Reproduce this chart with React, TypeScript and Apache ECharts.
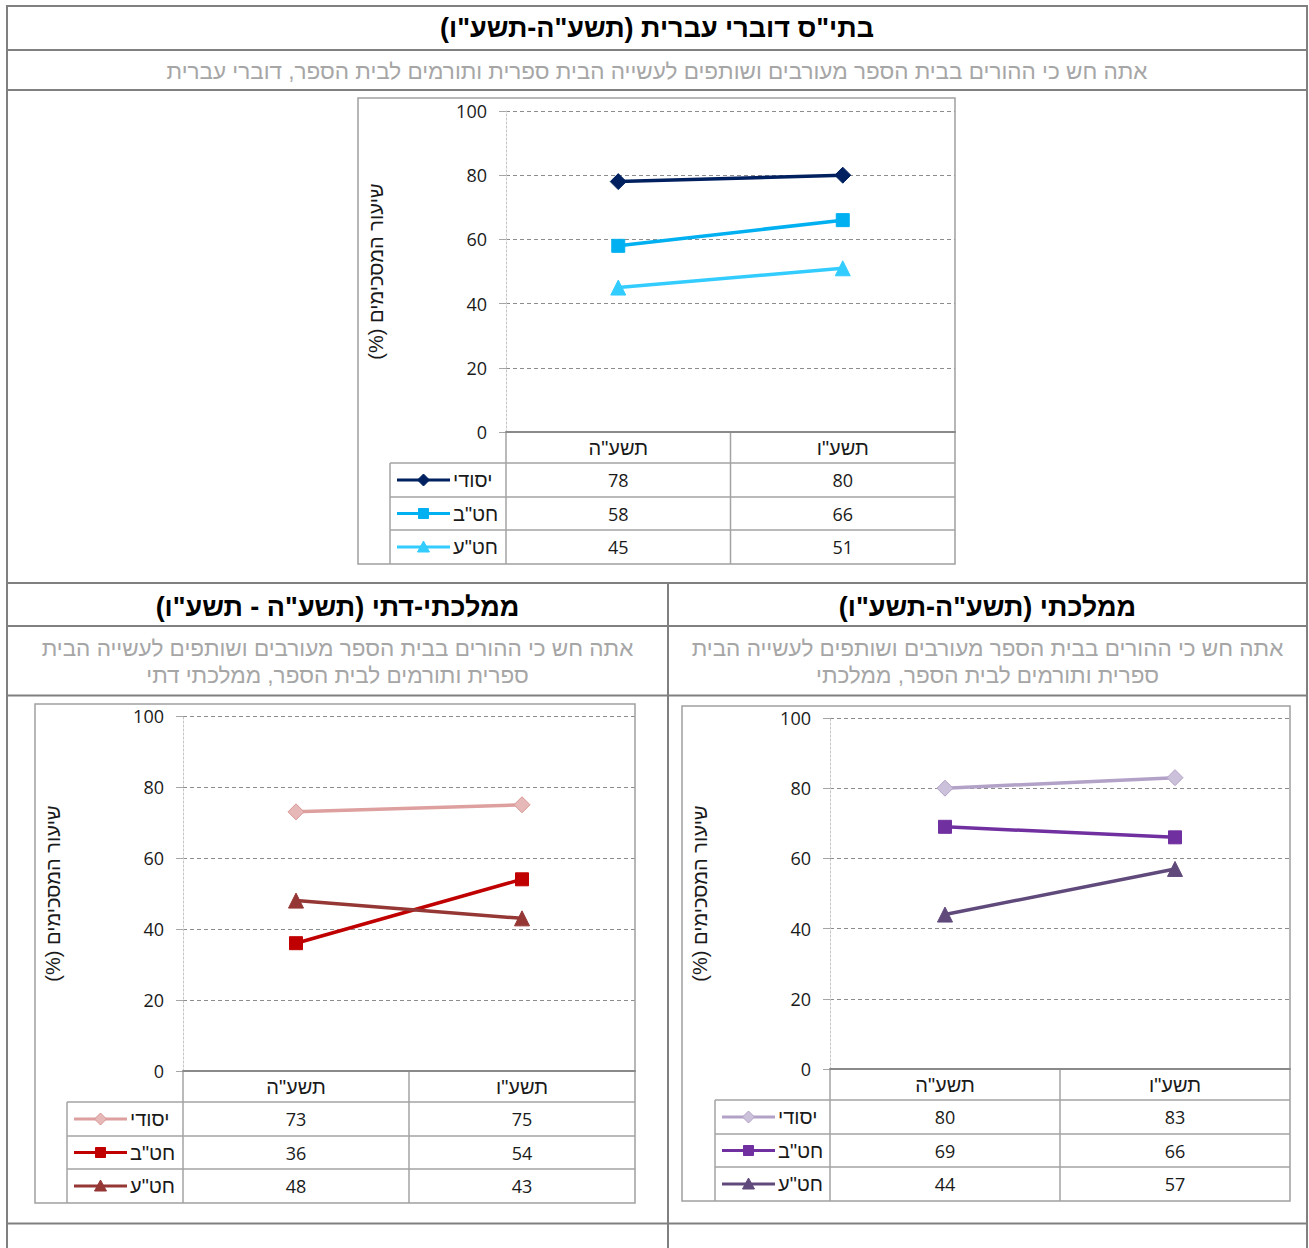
import { useEffect, useRef } from 'react';
import * as echarts from 'echarts';

// ---------- data ----------
const categories = ['תשע"ה', 'תשע"ו'];
const seriesNames = ['יסודי', 'חט"ב', 'חט"ע'];

const hebrewYesodi = [78, 80];
const hebrewHatab = [58, 66];
const hebrewHata = [45, 51];

const datiYesodi = [73, 75];
const datiHatab = [36, 54];
const datiHata = [48, 43];

const mamlachtiYesodi = [80, 83];
const mamlachtiHatab = [69, 66];
const mamlachtiHata = [44, 57];

const yMin = 0;
const yMax = 100;
const yInterval = 20;

const axisName = 'שיעור המסכימים (%)';

const topTitle = 'בתי"ס דוברי עברית (תשע"ה-תשע"ו)';
const topSubtitle = 'אתה חש כי ההורים בבית הספר מעורבים ושותפים לעשייה הבית ספרית ותורמים לבית הספר, דוברי עברית';
const datiTitle = 'ממלכתי-דתי (תשע"ה - תשע"ו)';
const datiSubtitle = ['אתה חש כי ההורים בבית הספר מעורבים ושותפים לעשייה הבית', 'ספרית ותורמים לבית הספר, ממלכתי דתי'];
const mamlachtiTitle = 'ממלכתי (תשע"ה-תשע"ו)';
const mamlachtiSubtitle = ['אתה חש כי ההורים בבית הספר מעורבים ושותפים לעשייה הבית', 'ספרית ותורמים לבית הספר, ממלכתי'];

// ---------- style / layout ----------
const RLM = '\u200F';
const FONT = "'Open Sans', 'Liberation Sans', 'DejaVu Sans', sans-serif";
const HEB = "'Liberation Sans', Arial, 'DejaVu Sans', sans-serif";
const BORDER = '#808080';
const TABLE = '#a3a3a3';
const TEXT = '#1a1a1a';

type Panel = {
  values: number[][];
  lineColors: string[];
  fills: string[];
  borders: string[];
  frame: number[]; // x0,y0,x1,y1
  plot: number[]; // left, top, right, bottom
  legendLeft: number;
  rowLines: number[];
};

const symbols = ['diamond', 'rect', 'triangle'];
const symbolSizes = [16, 13, 15];

const panels: Panel[] = [
  {
    values: [hebrewYesodi, hebrewHatab, hebrewHata],
    lineColors: ['#002060', '#00b0f0', '#33ccff'],
    fills: ['#002060', '#00b0f0', '#33ccff'],
    borders: ['#002060', '#00b0f0', '#33ccff'],
    frame: [358, 98, 955, 564],
    plot: [506, 111, 955, 432],
    legendLeft: 390,
    rowLines: [463, 497, 530, 564],
  },
  {
    values: [datiYesodi, datiHatab, datiHata],
    lineColors: ['#de9f9f', '#c00000', '#953735'],
    fills: ['#e6b9b8', '#c00000', '#953735'],
    borders: ['#d99694', '#c00000', '#953735'],
    frame: [35, 704, 635, 1203],
    plot: [183, 716, 635, 1071],
    legendLeft: 67,
    rowLines: [1102, 1136, 1169, 1203],
  },
  {
    values: [mamlachtiYesodi, mamlachtiHatab, mamlachtiHata],
    lineColors: ['#b3a2c7', '#7030a0', '#604a7b'],
    fills: ['#ccc1da', '#7030a0', '#604a7b'],
    borders: ['#b3a2c7', '#7030a0', '#604a7b'],
    frame: [682, 706, 1290, 1201],
    plot: [830, 718, 1290, 1069],
    legendLeft: 715,
    rowLines: [1100, 1134, 1167, 1201],
  },
];

function line(x1: number, y1: number, x2: number, y2: number, stroke: string, lineWidth: number, z = 1) {
  return { type: 'line', z, silent: true, shape: { x1, y1, x2, y2 }, style: { stroke, lineWidth } };
}

function text(x: number, y: number, str: string, opts: any = {}) {
  return {
    type: 'text',
    x,
    y,
    z: 5,
    silent: true,
    style: {
      text: str,
      fill: opts.fill || TEXT,
      fontSize: opts.fontSize || 18,
      fontFamily: opts.fontFamily || FONT,
      fontWeight: opts.fontWeight || 'normal',
      align: opts.align || 'center',
      verticalAlign: 'middle',
    },
  };
}

function keyMarker(kind: string, cx: number, cy: number, fill: string, stroke: string) {
  if (kind === 'diamond') {
    const r = 6;
    return { type: 'polygon', z: 6, shape: { points: [[cx, cy - r], [cx + r, cy], [cx, cy + r], [cx - r, cy]] }, style: { fill, stroke, lineWidth: 1 } };
  }
  if (kind === 'rect') {
    return { type: 'rect', z: 6, shape: { x: cx - 5, y: cy - 5, width: 10, height: 10 }, style: { fill, stroke, lineWidth: 1 } };
  }
  return { type: 'polygon', z: 6, shape: { points: [[cx, cy - 6], [cx + 6, cy + 5], [cx - 6, cy + 5]] }, style: { fill, stroke, lineWidth: 1 } };
}

function buildOption() {
  const grid: any[] = [];
  const xAxis: any[] = [];
  const yAxis: any[] = [];
  const series: any[] = [];
  const graphic: any[] = [];

  // outer table
  const L = 7, R = 1307, MID = 668;
  graphic.push(line(L, 6, R, 6, BORDER, 2));
  graphic.push(line(L, 50, R, 50, BORDER, 2));
  graphic.push(line(L, 90, R, 90, BORDER, 2));
  graphic.push(line(L, 583, R, 583, BORDER, 2));
  graphic.push(line(L, 626, R, 626, BORDER, 2));
  graphic.push(line(L, 695.5, R, 695.5, BORDER, 2));
  graphic.push(line(L, 1223.5, R, 1223.5, BORDER, 2));
  graphic.push(line(L, 5, L, 1248, BORDER, 2));
  graphic.push(line(R, 5, R, 1248, BORDER, 2));
  graphic.push(line(MID, 583, MID, 1248, BORDER, 2));

  // titles
  const titleOpts = { fontSize: 27, fontWeight: 'bold', fill: '#000', fontFamily: HEB };
  const subOpts = { fontSize: 22.5, fill: '#a6a6a6', fontFamily: HEB };
  graphic.push(text((L + R) / 2, 28, topTitle + RLM, titleOpts));
  graphic.push(text((L + R) / 2, 71, topSubtitle, subOpts));
  graphic.push(text((L + MID) / 2, 607, datiTitle + RLM, titleOpts));
  graphic.push(text((MID + R) / 2, 607, mamlachtiTitle + RLM, titleOpts));
  datiSubtitle.forEach((s, k) => graphic.push(text((L + MID) / 2, 648 + k * 27, s, subOpts)));
  mamlachtiSubtitle.forEach((s, k) => graphic.push(text((MID + R) / 2, 648 + k * 27, s, subOpts)));

  panels.forEach((p, i) => {
    const [pl, pt, pr, pb] = p.plot;
    const [fx0, fy0, fx1, fy1] = p.frame;
    grid.push({ left: pl, top: pt, width: pr - pl, height: pb - pt, containLabel: false, outerBoundsMode: 'none' });
    xAxis.push({
      type: 'category',
      gridIndex: i,
      data: categories,
      boundaryGap: true,
      axisLine: { show: true, onZero: false, lineStyle: { color: '#8a8a8a', width: 2 } },
      axisTick: { show: false },
      splitLine: { show: false },
      axisLabel: { margin: 16, verticalAlign: 'middle', fontSize: 20, color: TEXT, fontFamily: HEB, interval: 0 },
      z: 4,
    });
    yAxis.push({
      type: 'value',
      gridIndex: i,
      min: yMin,
      max: yMax,
      interval: yInterval,
      name: axisName + RLM,
      nameLocation: 'middle',
      nameGap: 120,
      nameTextStyle: { fontSize: 20, color: TEXT, fontFamily: HEB },
      axisLine: { show: true, lineStyle: { color: '#c4c4c4', type: [2, 2], width: 1 } },
      axisTick: { show: true, length: 7, lineStyle: { color: '#a6a6a6' } },
      axisLabel: { margin: 19, fontSize: 18, color: TEXT, fontFamily: FONT },
      splitLine: { show: true, lineStyle: { color: '#8c8c8c', type: [4, 3], width: 1 } },
    });
    p.values.forEach((vals, j) => {
      series.push({
        type: 'line',
        name: seriesNames[j],
        xAxisIndex: i,
        yAxisIndex: i,
        data: vals,
        symbol: symbols[j],
        symbolSize: symbolSizes[j],
        showSymbol: true,
        lineStyle: { color: p.lineColors[j], width: 3.5 },
        itemStyle: { color: p.fills[j], borderColor: p.borders[j], borderWidth: 1 },
        z: 10,
      });
    });

    // frame
    graphic.push({ type: 'rect', z: 1, silent: true, shape: { x: fx0, y: fy0, width: fx1 - fx0, height: fy1 - fy0 }, style: { fill: 'none', stroke: '#a0a0a0', lineWidth: 1.5 } });

    // data table lines
    const colW = (pr - pl) / categories.length;
    const rows = p.rowLines;
    graphic.push(line(p.legendLeft, rows[0], pr, rows[0], TABLE, 1.5));
    for (let r = 1; r < rows.length - 1; r++) graphic.push(line(p.legendLeft, rows[r], pr, rows[r], TABLE, 1.5));
    graphic.push(line(p.legendLeft, rows[0], p.legendLeft, fy1, TABLE, 1.5));
    for (let c = 0; c <= categories.length - 1; c++) graphic.push(line(pl + c * colW, pb, pl + c * colW, fy1, TABLE, 1.5));

    // values + legend keys
    p.values.forEach((vals, j) => {
      const cy = (rows[j] + rows[j + 1]) / 2;
      vals.forEach((v, k) => graphic.push(text(pl + (k + 0.5) * colW, cy, String(v))));
      const kx0 = p.legendLeft + 7;
      const kx1 = p.legendLeft + 60;
      graphic.push(line(kx0, cy, kx1, cy, p.lineColors[j], 3, 5));
      graphic.push(keyMarker(symbols[j], (kx0 + kx1) / 2, cy, p.fills[j], p.borders[j]));
      graphic.push(text(p.legendLeft + 63, cy, seriesNames[j], { align: 'left', fontFamily: HEB, fontSize: 20 }));
    });
  });

  return {
    animation: false,
    backgroundColor: '#ffffff',
    textStyle: { fontFamily: FONT },
    grid,
    xAxis,
    yAxis,
    series,
    graphic,
  };
}

export default function App() {
  const ref = useRef<HTMLDivElement>(null);
  useEffect(() => {
    if (!ref.current) return;
    const chart = echarts.init(ref.current, null, { renderer: 'svg' });
    chart.setOption(buildOption() as any);
    return () => chart.dispose();
  }, []);
  return <div ref={ref} style={{ position: 'absolute', left: 0, top: 0, width: 1309, height: 1248 }} />;
}
